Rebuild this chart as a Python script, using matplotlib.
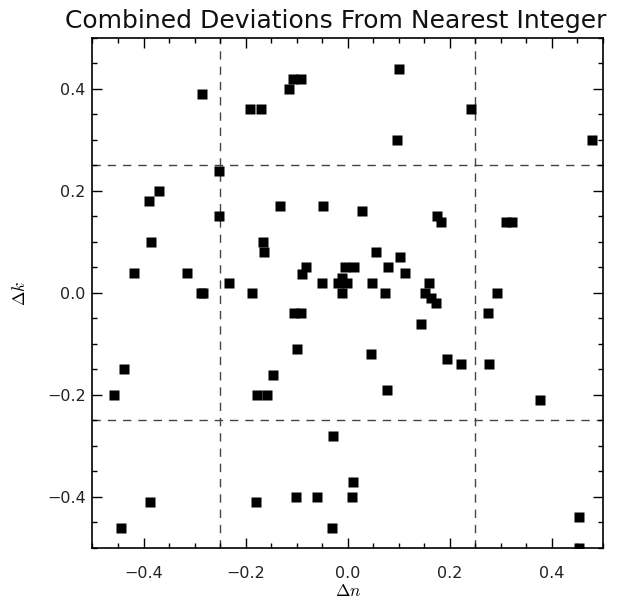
#!/usr/bin/env python3
"""Scatter of combined deviations from the nearest integer (dn, dk)."""

import matplotlib
matplotlib.use("Agg")
import matplotlib.pyplot as plt
from matplotlib.ticker import AutoMinorLocator

plt.rcParams["mathtext.fontset"] = "cm"

# deviations
delta_n = [
    -0.285, -0.191, -0.170, -0.115, -0.108, -0.092, 0.100, 0.241, 0.096, 0.478,
    -0.252, -0.369, -0.390, -0.252, -0.132, -0.048, -0.386, -0.166, -0.164, -0.418,
    -0.315, -0.082, -0.089, -0.005, 0.012, -0.232, -0.050, -0.020, -0.012, -0.002,
    0.027, 0.175, 0.182, 0.310, 0.322, 0.055, 0.102, 0.079, 0.112, 0.048,
    0.159, -0.288, -0.283, -0.187, -0.011, 0.073, 0.152, 0.164, 0.173, 0.292,
    0.274, -0.106, -0.091, 0.143, -0.099, 0.046, 0.194, 0.222, 0.276, -0.439,
    -0.146, 0.077, -0.457, -0.177, -0.159, 0.376, -0.029, 0.010, 0.008, -0.101,
    -0.060, -0.388, -0.179, -0.445, -0.031, 0.452, 0.452,
]
delta_k = [
    0.390, 0.360, 0.360, 0.400, 0.420, 0.420, 0.440, 0.360, 0.300, 0.300,
    0.240, 0.200, 0.180, 0.150, 0.170, 0.170, 0.100, 0.100, 0.080, 0.040,
    0.040, 0.050, 0.037, 0.050, 0.050, 0.020, 0.020, 0.020, 0.030, 0.020,
    0.160, 0.150, 0.140, 0.140, 0.140, 0.080, 0.070, 0.050, 0.040, 0.020,
    0.020, 0.000, 0.000, 0.000, 0.000, 0.000, 0.000, -0.010, -0.020, 0.000,
    -0.040, -0.040, -0.040, -0.060, -0.110, -0.120, -0.130, -0.140, -0.140, -0.150,
    -0.160, -0.190, -0.200, -0.200, -0.200, -0.210, -0.280, -0.370, -0.400, -0.400,
    -0.400, -0.410, -0.410, -0.460, -0.460, -0.440, -0.500,
]
cut_lines = [-0.25, 0.25]
tick_vals = [-0.4, -0.2, 0.0, 0.2, 0.4]

fig = plt.figure(figsize=(6.29, 6.0), dpi=100)
ax = fig.add_axes([0.147, 0.0867, 0.8117, 0.85])

for c in cut_lines:
    ax.axvline(c, color="#444444", lw=1.0, ls=(0, (6, 5)), zorder=1)
    ax.axhline(c, color="#444444", lw=1.0, ls=(0, (6, 5)), zorder=1)

ax.plot(delta_n, delta_k, "s", color="black", ms=6.5, mec="none", zorder=3)

ax.set_xlim(-0.5, 0.5)
ax.set_ylim(-0.5, 0.5)
ax.set_xticks(tick_vals)
ax.set_yticks(tick_vals)
ax.xaxis.set_minor_locator(AutoMinorLocator(4))
ax.yaxis.set_minor_locator(AutoMinorLocator(4))
ax.tick_params(which="both", direction="in", top=True, right=True, width=1.0,
               colors="black", labelcolor="#222222", labelsize=11.5)
ax.tick_params(which="major", length=7)
ax.tick_params(which="minor", length=3.5)
ax.tick_params(axis="x", which="major", pad=13)
ax.tick_params(axis="y", which="major", pad=5)
for s in ax.spines.values():
    s.set_linewidth(1.2)

ax.set_xlabel(r"$\Delta n$", fontsize=12.5)
ax.xaxis.set_label_coords(0.5, -0.085)
ax.xaxis.label.set_va("center")
ax.set_ylabel(r"$\Delta k$", fontsize=12.5)
ax.yaxis.set_label_coords(-0.142, 0.5)
ax.yaxis.label.set_va("center")

fig.text(0.533, 0.965, "Combined Deviations From Nearest Integer",
         ha="center", va="center", fontsize=18, color="#111111")

fig.savefig("out.png", dpi=100)
